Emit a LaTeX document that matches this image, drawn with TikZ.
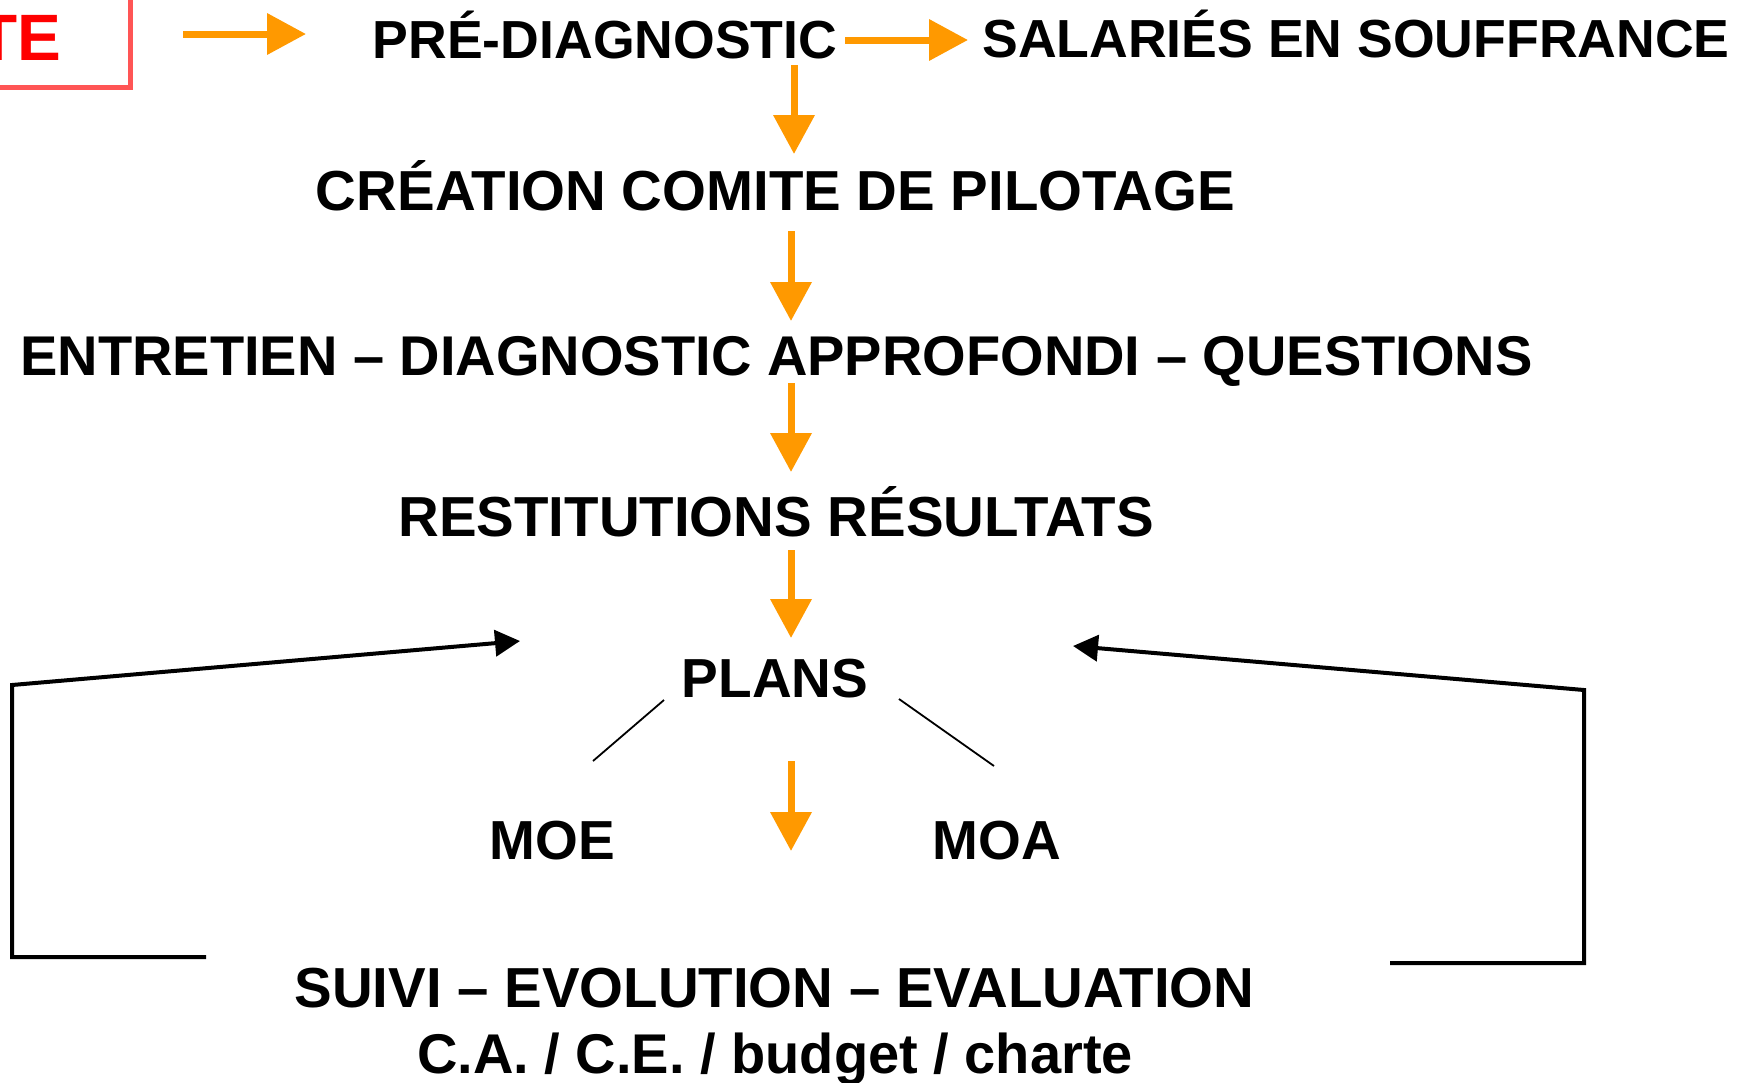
\documentclass[tikz,border=0pt]{standalone}
\usepackage{fontspec}
\setmainfont{Liberation Sans}
\usetikzlibrary{arrows.meta}
\definecolor{orangeA}{RGB}{255,153,0}
\definecolor{boxred}{RGB}{255,85,85}
\definecolor{txtred}{RGB}{255,0,0}
\tikzset{
  lbl/.style={inner sep=0pt, anchor=base, font=\fontsize{27.5}{33}\selectfont\bfseries},
  lbltop/.style={lbl, font=\fontsize{26.8}{32}\selectfont\bfseries},
  lblmid/.style={lbl, font=\fontsize{28.2}{34}\selectfont\bfseries},
  lblmidb/.style={lbl, font=\fontsize{28.0}{34}\selectfont\bfseries},
  oarrow/.style={draw=orangeA, line width=3.5pt, -{Triangle[length=19.5pt, width=20pt]}},
  barrow/.style={draw=black, line width=2pt, line join=miter, -{Triangle[length=12.5pt, width=13pt]}},
  tline/.style={draw=black, line width=0.9pt}
}
\begin{document}
\begin{tikzpicture}[x=0.5pt, y=-0.5pt]
\useasboundingbox (0,0) rectangle (1749,1082);
\begin{scope}
\clip (0,0) rectangle (1749,1082);
% red box (partly outside)
\draw[boxred, line width=2.5pt] (-300,-40) rectangle (130,87);
\node[lbl, anchor=base east, text=txtred, font=\fontsize{32.8}{38}\selectfont\bfseries] (te) at (62,60) {TE};
\end{scope}

\node[lbltop] (pre) at (605,58) {PRÉ-DIAGNOSTIC};
\node[lbltop] (sal) at (1356,57) {SALARIÉS EN SOUFFRANCE};
\node[lblmid] (crea) at (775.5,210) {CRÉATION COMITE DE PILOTAGE};
\node[lblmidb] (entr) at (776.5,375) {ENTRETIEN – DIAGNOSTIC APPROFONDI – QUESTIONS};
\node[lblmid] (rest) at (776,536) {RESTITUTIONS RÉSULTATS};
\node[lbl] (plans) at (775,697) {PLANS};
\node[lbl] (moe) at (552.5,859) {MOE};
\node[lbl] (moa) at (997,859) {MOA};
\node[lblmid] (suivi) at (774.5,1007) {SUIVI – EVOLUTION – EVALUATION};
\node[lblmidb] (ca) at (775,1073) {C.A. / C.E. / budget / charte};

% orange arrows
\coordinate (h1s) at (183,34);  \coordinate (h1e) at (306,34);
\coordinate (h2s) at (845,40);  \coordinate (h2e) at (968,40);
\coordinate (v1s) at (794,65);  \coordinate (v1e) at (794,154);
\coordinate (v2s) at (791,231); \coordinate (v2e) at (791,321);
\coordinate (v3s) at (791,383); \coordinate (v3e) at (791,472);
\coordinate (v4s) at (791,550); \coordinate (v4e) at (791,638);
\coordinate (v5s) at (791,761); \coordinate (v5e) at (791,851);
\draw[oarrow] (h1s) -- (h1e);
\draw[oarrow] (h2s) -- (h2e);
\draw[oarrow] (v1s) -- (v1e);
\draw[oarrow] (v2s) -- (v2e);
\draw[oarrow] (v3s) -- (v3e);
\draw[oarrow] (v4s) -- (v4e);
\draw[oarrow] (v5s) -- (v5e);

% thin branches from PLANS
\coordinate (pl1) at (664,700); \coordinate (pl2) at (593,761);
\coordinate (pr1) at (899,699); \coordinate (pr2) at (994,766);
\draw[tline] (pl1) -- (pl2);
\draw[tline] (pr1) -- (pr2);

% feedback loops
\coordinate (l0) at (206,957); \coordinate (l1) at (12,957);
\coordinate (l2) at (12,685);  \coordinate (l3) at (520,641);
\draw[barrow] (l0) -- (l1) -- (l2) -- (l3);
\coordinate (r0) at (1390,963); \coordinate (r1) at (1584,963);
\coordinate (r2) at (1584,690); \coordinate (r3) at (1073,646);
\draw[barrow] (r0) -- (r1) -- (r2) -- (r3);
\end{tikzpicture}
\end{document}
